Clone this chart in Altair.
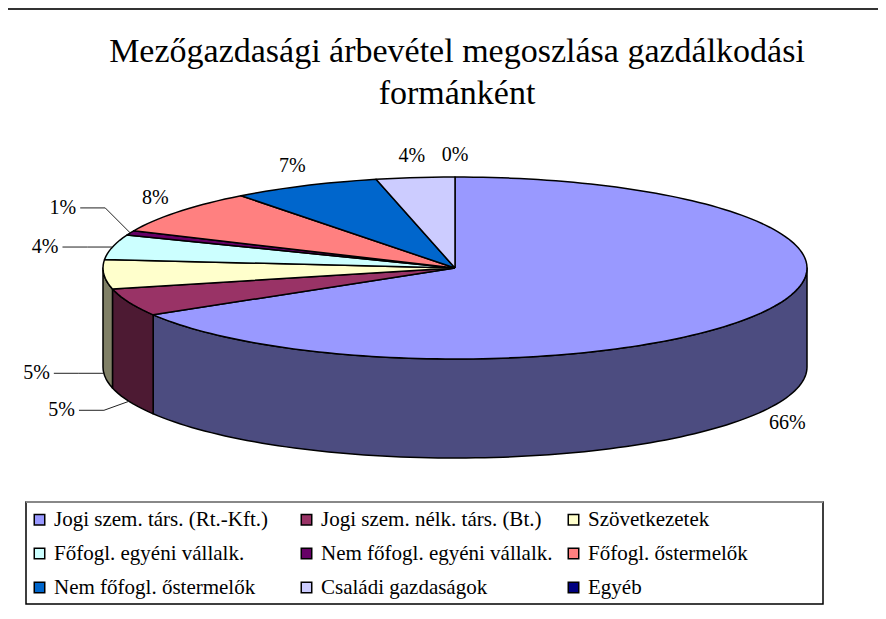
import altair as alt
import numpy as np
import pandas as pd

# ---------------- data ----------------
categories = [
    "Jogi szem. társ. (Rt.-Kft.)",
    "Jogi szem. nélk. társ. (Bt.)",
    "Szövetkezetek",
    "Főfogl. egyéni vállalk.",
    "Nem főfogl. egyéni vállalk.",
    "Főfogl. őstermelők",
    "Nem főfogl. őstermelők",
    "Családi gazdaságok",
    "Egyéb",
]
shares = [66.4, 4.9, 5.2, 4.4, 0.8, 7.9, 6.8, 3.6, 0.0]
top_colors = ["#9999FF", "#993366", "#FFFFCC", "#CCFFFF", "#660066",
              "#FF8080", "#0066CC", "#CCCCFF", "#000080"]
side_colors = ["#4C4C80", "#4D1A33", "#808066", "#668080", "#330033",
               "#804040", "#003366", "#666680", "#000040"]
title_lines = ["Mezőgazdasági árbevétel megoszlása gazdálkodási", "formánként"]
# label placement tweaks (pixels) and leader-line flags
label_shift = [0, 9, 0, 0, -25, 0, 0, 0, 0]
label_leader = [False, True, True, True, True, False, False, False, False]

# ---------------- layout ----------------
W, H = 868, 601
CX, CY = 445, 258          # pie centre in view pixels
RX, RY, DEPTH = 352, 91, 99
D = DEPTH / RY             # depth in y units
FONT = "Liberation Serif"

xs = alt.Scale(domain=[-CX / RX, (W - CX) / RX], nice=False, zero=False)
ys = alt.Scale(domain=[-CY / RY, (H - CY) / RY], nice=False, zero=False, reverse=True)
X = lambda f: alt.X(f, type="quantitative", scale=xs, axis=None)
Y = lambda f: alt.Y(f, type="quantitative", scale=ys, axis=None)

total = sum(shares)
ends = np.cumsum(shares) / total
starts = ends - np.array(shares) / total

# top face wedges
top_rows = []
for i, (name, a, b) in enumerate(zip(categories, starts, ends)):
    if b - a <= 0:
        continue
    ta, tb = 2 * np.pi * a, 2 * np.pi * b
    n = max(3, int((tb - ta) / (2 * np.pi) * 240))
    pts = [(0.0, 0.0)] + [(np.sin(t), -np.cos(t)) for t in np.linspace(ta, tb, n)] + [(0.0, 0.0)]
    for k, (u, v) in enumerate(pts):
        top_rows.append({"name": name, "k": k, "u": u, "v": v})
top_df = pd.DataFrame(top_rows)

# side walls (front half only)
side_rows = []
for i, (name, a, b) in enumerate(zip(categories, starts, ends)):
    ta, tb = max(2 * np.pi * a, np.pi / 2), min(2 * np.pi * b, 3 * np.pi / 2)
    if tb <= ta:
        continue
    n = max(3, int((tb - ta) / (2 * np.pi) * 240))
    for t in np.linspace(ta, tb, n):
        side_rows.append({"side": name + " ", "u": np.sin(t), "v": -np.cos(t), "v2": -np.cos(t) + D})
side_df = pd.DataFrame(side_rows)

# labels
lab_rows, lead_rows = [], []
for i, (name, a, b, s) in enumerate(zip(categories, starts, ends, shares)):
    m = np.pi * (a + b)
    front = np.pi / 2 <= m <= 3 * np.pi / 2
    au, av = np.sin(m), -np.cos(m) + (D if front else 0)
    ax_px, ay_px = CX + RX * au, CY + RY * av
    txt = f"{round(s):.0f}%"
    if label_leader[i]:
        ly = ay_px + label_shift[i]
        lx = ax_px - 54
        lab_rows.append({"t": txt, "u": (lx - CX) / RX, "v": (ly - CY) / RY, "al": "right"})
        for k, (px, py) in enumerate([(ax_px - 50, ly), (ax_px - 25, ly), (ax_px, ay_px)]):
            lead_rows.append({"t": name, "k": k, "u": (px - CX) / RX, "v": (py - CY) / RY})
    else:
        lx = ax_px + 30 * np.sin(m)
        ly = ay_px - 22 * np.cos(m) + label_shift[i]
        lab_rows.append({"t": txt, "u": (lx - CX) / RX, "v": (ly - CY) / RY, "al": "center"})
lab_df = pd.DataFrame(lab_rows)
lead_df = pd.DataFrame(lead_rows)

# ---------------- layers ----------------
side_names = [c + " " for c in categories]
sides = alt.Chart(side_df).mark_area(stroke="black", strokeWidth=1.5, strokeJoin="round").encode(
    x=X("u"), y=Y("v"), y2="v2",
    fill=alt.Fill("side:N", scale=alt.Scale(domain=side_names, range=side_colors), legend=None),
    detail="side:N",
)

tops = alt.Chart(top_df).mark_line(stroke="black", strokeWidth=1.5, strokeJoin="round").encode(
    x=X("u"), y=Y("v"),
    fill=alt.Fill("name:N", scale=alt.Scale(domain=categories, range=top_colors),
                  legend=alt.Legend(title=None, orient="none", legendX=19, legendY=499,
                                    columns=3, direction="horizontal",
                                    symbolType="square", symbolSize=110,
                                    symbolStrokeColor="black", symbolStrokeWidth=1.5,
                                    symbolOpacity=1,
                                    labelFont=FONT, labelFontSize=21, labelColor="black",
                                    labelLimit=0, labelOffset=4,
                                    rowPadding=12, columnPadding=10, gridAlign="all")),
    detail="name:N",
    order="k:Q",
)

leaders = alt.Chart(lead_df).mark_line(color="#222222", strokeWidth=1).encode(
    x=X("u"), y=Y("v"), detail="t:N", order="k:Q")

labels_c = alt.Chart(lab_df).transform_filter("datum.al == 'center'").mark_text(
    font=FONT, fontSize=20, color="black", align="center", baseline="middle").encode(
    x=X("u"), y=Y("v"), text="t:N")
labels_r = alt.Chart(lab_df).transform_filter("datum.al == 'right'").mark_text(
    font=FONT, fontSize=20, color="black", align="right", baseline="middle").encode(
    x=X("u"), y=Y("v"), text="t:N")

title = alt.Chart(pd.DataFrame({"a": [0]})).mark_text(
    font=FONT, fontSize=34, color="black", align="center", baseline="alphabetic",
    lineHeight=42).encode(
    x=alt.value(447), y=alt.value(52), text=alt.value(title_lines))

frame_h = alt.Chart(pd.DataFrame({"a": [0]})).mark_rule(color="#333333", strokeWidth=2).encode(
    x=alt.value(-3), x2=alt.value(W + 10), y=alt.value(-1))
frame_v = alt.Chart(pd.DataFrame({"a": [0]})).mark_rule(color="#333333", strokeWidth=2).encode(
    x=alt.value(-3), y=alt.value(-1), y2=alt.value(H + 10))
legend_box = alt.Chart(pd.DataFrame({"a": [0]})).mark_rect(
    fill="white", stroke="black", strokeWidth=1.5).encode(
    x=alt.value(16), x2=alt.value(813), y=alt.value(492), y2=alt.value(594))
legend_top = alt.Chart(pd.DataFrame({"a": [0]})).mark_rule(color="#888888", strokeWidth=2).encode(
    x=alt.value(16), x2=alt.value(813), y=alt.value(492))

chart = alt.layer(
    frame_h, frame_v, legend_box, legend_top, sides, tops, leaders, labels_c, labels_r, title
).resolve_scale(fill="independent").properties(
    width=W, height=H,
    padding={"left": 2, "top": 2, "right": 0, "bottom": 0},
    autosize=alt.AutoSizeParams(type="none"),
    background="white",
).configure_view(stroke=None)

chart.save("out.html", embed_options={"renderer": "svg", "actions": False})
